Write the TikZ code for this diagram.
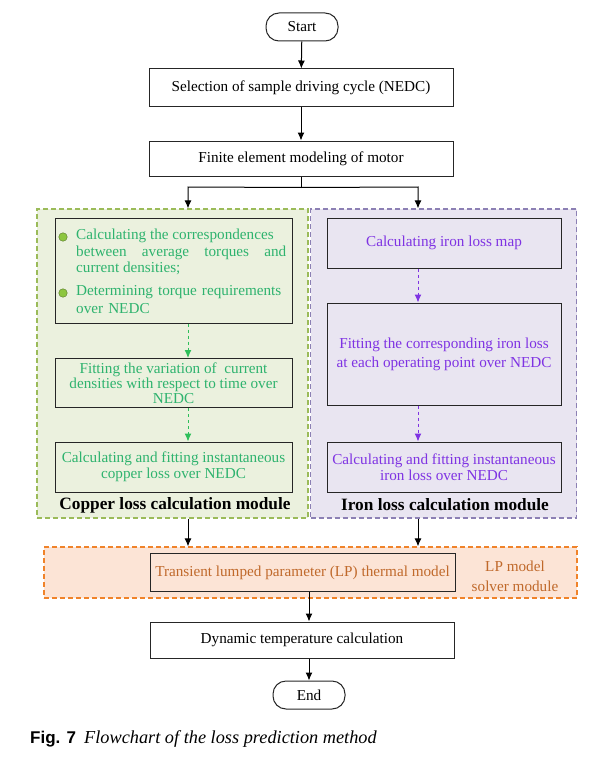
\documentclass[tikz,border=0pt]{standalone}
\usepackage{fontspec}
\setmainfont{Liberation Serif}
\newfontfamily\capsans{Liberation Sans}
\usetikzlibrary{calc, arrows.meta}
\definecolor{cuFill}{HTML}{EBF1DE}
\definecolor{cuEdge}{HTML}{9BBB59}
\definecolor{cuText}{HTML}{2EB36E}
\definecolor{cuArrow}{HTML}{2EBF5A}
\definecolor{cuDot}{HTML}{8DC63F}
\definecolor{feFill}{HTML}{E9E5F1}
\definecolor{feEdge}{HTML}{8C80B4}
\definecolor{feText}{HTML}{7F33E3}
\definecolor{lpFill}{HTML}{FCE4D6}
\definecolor{lpEdge}{HTML}{F0832A}
\definecolor{lpText}{HTML}{C0692B}
\tikzset{>={Latex[length=8pt, width=7pt]}}
\tikzset{
  box/.style={draw=black!85, line width=1pt, minimum width=304, minimum height=36, align=center, font=\fontsize{15.2}{17}\selectfont},
  term/.style={draw=black!85, line width=1pt, rounded corners=13pt, minimum width=72, minimum height=28, font=\fontsize{15.2}{17}\selectfont},
  module/.style={line width=1.2pt, dash pattern=on 5pt off 3pt},
  inbox/.style={draw=black!85, line width=1pt, align=center, inner sep=1pt},
  cubox/.style={inbox, text=cuText, minimum width=237},
  febox/.style={inbox, text=feText, minimum width=234},
  modlabel/.style={font=\fontsize{17.3}{19}\selectfont\bfseries},
  cuarrow/.style={->, cuArrow, line width=1pt, dashed},
  fearrow/.style={->, feText, line width=1pt, dashed},
  dot/.style={circle, draw=cuDot!60!black, fill=cuDot, minimum size=8.5pt, inner sep=0pt}
}
\begin{document}
\begin{tikzpicture}[x=1pt, y=-1pt]
\useasboundingbox (0,0) rectangle (593,757);
% main column
\node[term] (start) at (302,27) {Start};
\node[box, minimum height=38] (sel) at (301,88) {Selection of sample driving cycle (NEDC)};
\node[box, minimum height=35] (fem) at (301,158.5) {Finite element modeling of motor};
% the two loss modules
\node[module, draw=cuEdge, fill=cuFill, minimum width=271, minimum height=309] (cumod) at (172.5,363.5) {};
\node[module, draw=feEdge, fill=feFill, minimum width=266, minimum height=309] (femod) at (443.5,363.5) {};
\coordinate (cuin) at (188,187);
\coordinate (fein) at (418,187);
% copper loss
\node[cubox, minimum height=105] (cu1) at (173.5,270.5) {};
\node[dot] (dot1) at (63,237) {};
\node[dot] (dot2) at (63,293) {};
\node[anchor=north west, text=cuText, text width=210, align=justify, inner sep=0pt,
  font=\fontsize{15.2}{16.5}\selectfont] (cut1) at (76,229)
  {Calculating the correspondences\\between average torques and\linebreak current densities;};
\node[anchor=north west, text=cuText, text width=214, align=left, inner sep=0pt,
  font=\fontsize{15.2}{18.5}\selectfont] (cut2) at (76,285)
  {Determining torque requirements\\over NEDC};
\node[cubox, minimum height=49, font=\fontsize{15.2}{15}\selectfont] (cu2) at (173.5,383)
  {Fitting the variation of\ \ current\\densities with respect to time over\\NEDC};
\node[cubox, minimum height=50, font=\fontsize{15.2}{15.5}\selectfont] (cu3) at (173.5,467)
  {Calculating and fitting instantaneous\\copper loss over NEDC};
\node[modlabel] (culab) at (175,505) {Copper loss calculation module};
\draw[cuarrow] (cu1.south -| cuin) -- (cu2.north -| cuin);
\draw[cuarrow] (cu2.south -| cuin) -- (cu3.north -| cuin);
% iron loss
\node[febox, minimum height=50, font=\fontsize{15.2}{17}\selectfont] (fe1) at (444,243) {Calculating iron loss map};
\node[febox, minimum height=102, font=\fontsize{15.2}{19}\selectfont] (fe2) at (444,354)
  {Fitting the corresponding iron loss\\at each operating point over NEDC};
\node[febox, minimum height=50, font=\fontsize{15.2}{16.5}\selectfont] (fe3) at (444,467)
  {Calculating and fitting instantaneous\\iron loss over NEDC};
\node[modlabel] (felab) at (445,505) {Iron loss calculation module};
\draw[fearrow] (fe1.south -| fein) -- (fe2.north -| fein);
\draw[fearrow] (fe2.south -| fein) -- (fe3.north -| fein);
% LP solver
\node[module, draw=lpEdge, fill=lpFill, minimum width=533, minimum height=51] (lpmod) at (310.5,572.5) {};
\node[inbox, fill=lpFill, text=lpText, minimum width=305, minimum height=38,
  font=\fontsize{15.2}{17}\selectfont] (lp) at (302.5,572.5) {Transient lumped parameter (LP) thermal model};
\node[text=lpText, align=center, font=\fontsize{15.2}{20}\selectfont] (lplab) at (515,576) {LP model\\solver module};
\node[box] (dyn) at (302,640) {Dynamic temperature calculation};
\node[term] (end) at (309,695) {End};
% connectors
\draw[->, line width=1pt] (start) -- (sel);
\draw[->, line width=1pt] (sel) -- (fem);
\draw[line width=1pt] (fem.south) -- ++(0,11) coordinate (fork);
\draw[->, line width=1pt] (fork) -- (cuin) -- (cuin |- cumod.north);
\draw[->, line width=1pt] (fork) -- (fein) -- (fein |- femod.north);
\draw[->, line width=1pt] (cuin |- cumod.south) -- (cuin |- lpmod.north);
\draw[->, line width=1pt] (fein |- femod.south) -- (fein |- lpmod.north);
\draw[->, line width=1pt] (lp.south -| end.north) -- (dyn.north -| end.north);
\draw[->, line width=1pt] (dyn.south -| end.north) -- (end.north);
% caption
\node[anchor=west, inner sep=0pt] (cap) at (30,739)
  {{\capsans\bfseries\fontsize{17}{19}\selectfont Fig. 7}\hspace{8pt}{\itshape\fontsize{18.3}{20}\selectfont Flowchart of the loss prediction method}};
\end{tikzpicture}
\end{document}
